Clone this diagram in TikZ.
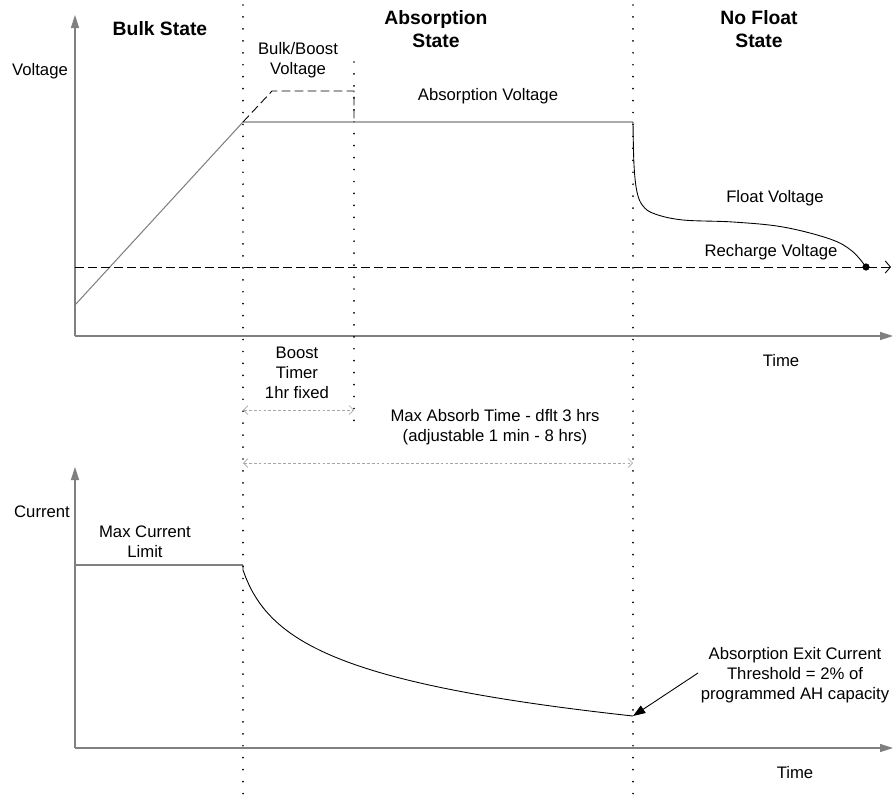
\documentclass[tikz,border=0pt]{standalone}
\usepackage{fontspec}
\setmainfont{Liberation Sans}
\usetikzlibrary{arrows.meta}
\begin{document}
\begin{tikzpicture}[x=0.02cm,y=-0.02cm,
                    axis/.style = {draw=gray,line width=0.6pt,-{Triangle[length=7.4pt,width=4.6pt]}},
                    divider/.style = {line width=1.1pt,line cap=round,dash pattern=on 0pt off 6.8pt},
                    level/.style = {gray,line width=0.6pt},
                    limit/.style = {line width=0.5pt,dash pattern=on 5pt off 2.4pt},
                    span/.style = {gray!70,line width=0.4pt,dash pattern=on 1.6pt off 1.2pt,{Straight Barb[length=2.5pt,width=5pt]}-{Straight Barb[length=2.5pt,width=5pt]}},
                    lbl/.style = {font=\fontsize{9.5}{11.4}\selectfont,align=center,inner sep=0pt},
                    title/.style = {font=\bfseries\fontsize{11}{12.8}\selectfont,align=center,inner sep=0pt}]
                    \useasboundingbox (0,0) rectangle (895,795);

                    % axes
                    \coordinate (vO) at (75,336);
                    \coordinate (vT) at (75,15);
                    \coordinate (vE) at (893,336);
                    \coordinate (iO) at (75,748);
                    \coordinate (iT) at (75,467);
                    \coordinate (iE) at (893,748);
                    \draw[axis] (vO) -- (vT);
                    \draw[axis] (vO) -- (vE);
                    \draw[axis] (iO) -- (iT);
                    \draw[axis] (iO) -- (iE);

                    % state borders
                    \draw[divider] (243,5) -- (243,795);
                    \draw[divider] (354,62) -- (354,422);
                    \draw[divider] (633,5) -- (633,795);

                    % voltage
                    \coordinate (rampA) at (75,305);
                    \coordinate (rampB) at (243,122);
                    \coordinate (absEnd) at (633,122);
                    \coordinate (rchDot) at (866,267);
                    \draw[level] (rampA) -- (rampB) -- (absEnd);
                    \draw[limit] (rampB) -- (272,91) -- (354,91) -- (354,122);
                    \draw[limit,-{Straight Barb[length=3pt,width=7pt]}] (75,267) -- (891,267);
                    \draw[line width=0.5pt] plot[smooth,tension=0.6] coordinates {(absEnd) (634,165) (637,192) (643,206) (655,214) (683,220) (733,222) (783,227) (830,239) (852,251) (rchDot)};
                    \filldraw (rchDot) circle (3.2);

                    % current
                    \coordinate (maxA) at (75,565);
                    \coordinate (maxB) at (243,565);
                    \coordinate (exitPt) at (633,716);
                    \draw[level] (maxA) -- (maxB);
                    \draw[line width=0.5pt] (maxB) -- (243,570) -- plot[domain=0:390,samples=120] ({243+\x},{570+44.3*ln(1+\x/15)});

                    % timers
                    \draw[span] (243,410) -- (354,410);
                    \draw[span] (243,463) -- (633,463);

                    % labels
                    \node[title] (bulk) at (160,29) {Bulk State};
                    \node[title] (absorb) at (436,29) {Absorption\\State};
                    \node[title] (nofloat) at (759,29) {No Float\\State};
                    \node[lbl] (volt) at (40,71) {Voltage};
                    \node[lbl] (boostV) at (298,60) {Bulk/Boost\\Voltage};
                    \node[lbl] (absV) at (488,96) {Absorption Voltage};
                    \node[lbl] (floatV) at (775,198) {Float Voltage};
                    \node[lbl] (rchV) at (771,252) {Recharge Voltage};
                    \node[lbl] (timeV) at (781,361) {Time};
                    \node[lbl] (boostT) at (297,373) {Boost\\Timer\\1hr fixed};
                    \node[lbl] (maxT) at (495,427) {Max Absorb Time - dflt 3 hrs\\(adjustable 1 min - 8 hrs)};
                    \node[lbl] (curr) at (42,512) {Current};
                    \node[lbl] (maxI) at (145,542) {Max Current\\Limit};
                    \node[lbl] (exitI) at (795,675) {Absorption Exit Current\\Threshold = 2\% of\\programmed AH capacity};
                    \node[lbl] (timeI) at (795,773) {Time};

                    \draw[line width=0.5pt,-{Triangle[length=7pt,width=5pt]}] (698,673) -- (exitPt);
                \end{tikzpicture}
\end{document}
